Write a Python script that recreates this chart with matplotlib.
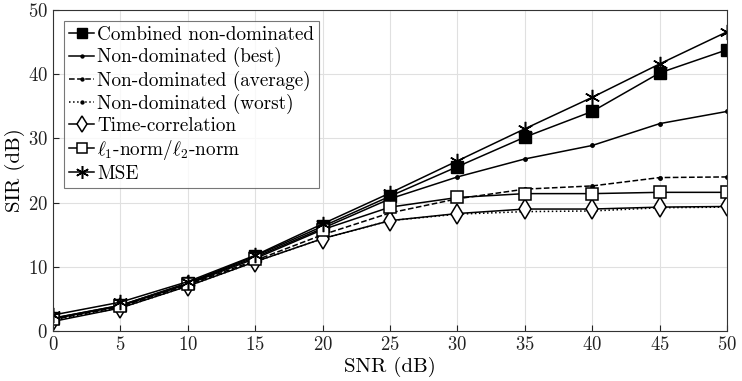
import numpy as np
import matplotlib
matplotlib.use('Agg')
import matplotlib.pyplot as plt

plt.rcParams['font.family'] = 'serif'
plt.rcParams['font.serif'] = ['cmr10']
plt.rcParams['mathtext.fontset'] = 'cm'
plt.rcParams['axes.formatter.use_mathtext'] = True

snr = [0, 5, 10, 15, 20, 25, 30, 35, 40, 45, 50]

combined = [2.0, 4.0, 7.5, 11.7, 16.3, 21.0, 25.6, 30.2, 34.2, 40.2, 43.8]
nd_best = [2.0, 4.0, 7.4, 11.5, 16.0, 20.6, 24.0, 26.8, 28.9, 32.3, 34.2]
nd_avg = [1.8, 3.8, 7.2, 11.0, 15.0, 18.4, 20.6, 22.1, 22.6, 23.9, 24.0]
nd_worst = [1.7, 3.6, 7.0, 10.8, 14.4, 17.2, 18.2, 18.6, 18.7, 19.2, 19.3]
time_corr = [1.5, 3.6, 7.0, 10.8, 14.4, 17.2, 18.3, 19.0, 19.0, 19.3, 19.4]
l1l2 = [1.9, 3.9, 7.3, 11.3, 15.8, 19.3, 20.8, 21.4, 21.4, 21.6, 21.6]
mse = [2.5, 4.5, 7.7, 11.8, 16.7, 21.5, 26.5, 31.5, 36.4, 41.6, 46.6]

fig = plt.figure(figsize=(7.42, 3.81), dpi=100)
ax = fig.add_axes([0.0714, 0.131, 0.9086, 0.843])

ax.plot(snr, combined, 'k-', marker='s', ms=8, lw=1.1, label='Combined non-dominated')
ax.plot(snr, nd_best, 'k-', marker='.', ms=5, lw=1.1, label='Non-dominated (best)')
ax.plot(snr, nd_avg, 'k--', marker='.', ms=5, lw=1.1, label='Non-dominated (average)')
ax.plot(snr, nd_worst, 'k:', marker='.', ms=5, lw=1.1, label='Non-dominated (worst)')
ax.plot(snr, time_corr, 'k-', marker='d', ms=10, mfc='white', mew=1.1, lw=1.1,
        label='Time-correlation')
ax.plot(snr, l1l2, 'k-', marker='s', ms=8, mfc='white', mew=1.1, lw=1.1,
        label=r'$\ell_1$-norm/$\ell_2$-norm')
ax.plot(snr, mse, 'k-', marker=(6, 2, 0), ms=11, mew=1.1, lw=1.1, label='MSE')

ax.set_xlim(0, 50)
ax.set_ylim(0, 50)
ax.set_xticks(np.arange(0, 51, 5))
ax.set_yticks(np.arange(0, 51, 10))
ax.grid(True, color='#e0e0e0', lw=0.8)
ax.tick_params(direction='in', labelsize=13.5, colors='#222222', length=4)
for s in ax.spines.values():
    s.set_color('#333333')
    s.set_linewidth(0.8)
ax.set_xlabel('SNR (dB)', fontsize=15, labelpad=2)
ax.set_ylabel('SIR (dB)', fontsize=15, labelpad=2)

leg = ax.legend(loc='upper left', fontsize=13.8, frameon=True, fancybox=False,
                edgecolor='#555555', handlelength=1.3, handletextpad=0.15,
                borderpad=0.25, labelspacing=0.16, borderaxespad=0.6,
                markerscale=0.85)
leg.get_frame().set_linewidth(0.8)

fig.savefig('out.png', dpi=100)
